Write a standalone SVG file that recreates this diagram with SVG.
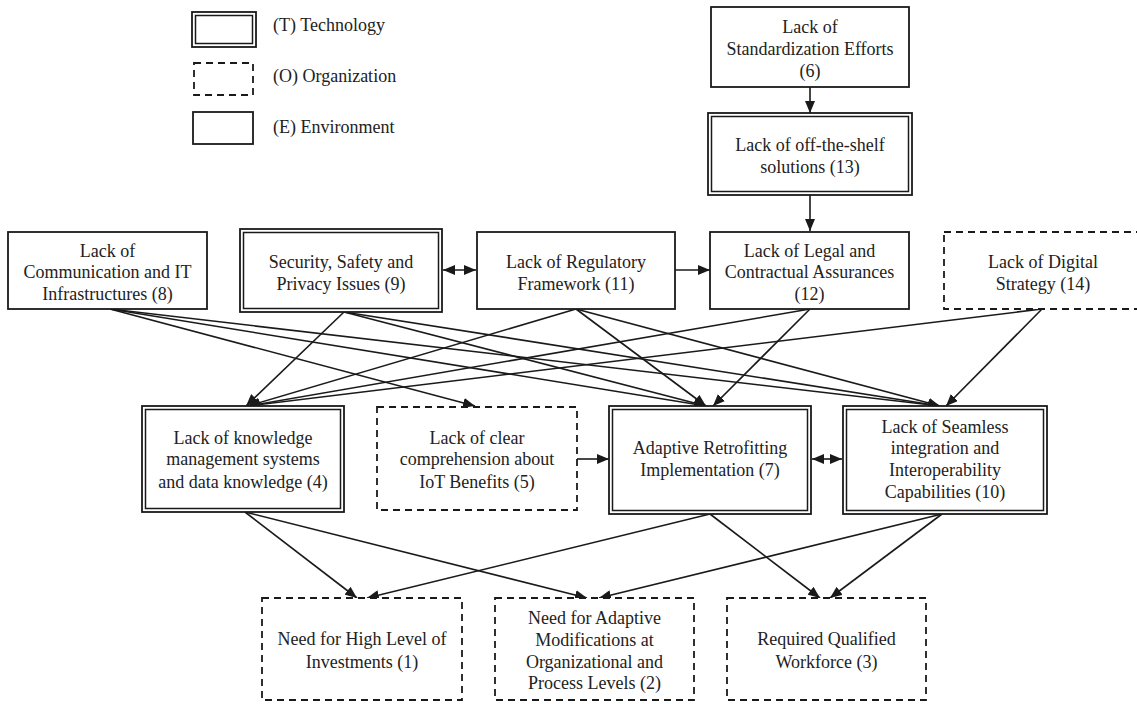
<svg xmlns="http://www.w3.org/2000/svg" width="1137" height="704" viewBox="0 0 1137 704">
<defs>
<style>
.box{fill:#fff;stroke:#1a1a1a;stroke-width:1.8}
.dash{fill:#fff;stroke:#1a1a1a;stroke-width:1.8;stroke-dasharray:7 5}
.inner{fill:none;stroke:#1a1a1a;stroke-width:1.5}
text{font-family:"Liberation Serif","Times New Roman",serif;font-size:18px;fill:#222;text-anchor:middle}
.leg{text-anchor:start}
.c line{stroke:#1a1a1a;stroke-width:1.6;marker-end:url(#ah)}
.c line.both{marker-start:url(#ahs)}
</style>
<marker id="ah" markerUnits="userSpaceOnUse" markerWidth="13" markerHeight="10" refX="12" refY="5" orient="auto">
<path d="M0,0 L12,5 L0,10 Z" fill="#1a1a1a"/>
</marker>
<marker id="ahs" markerUnits="userSpaceOnUse" markerWidth="13" markerHeight="10" refX="12" refY="5" orient="auto-start-reverse">
<path d="M0,0 L12,5 L0,10 Z" fill="#1a1a1a"/>
</marker>
</defs>
<rect width="1137" height="704" fill="#fff"/>

<g id="legend">
<rect class="box" x="192" y="12" width="64" height="35"/>
<rect class="inner" x="195.5" y="15.5" width="57" height="28"/>
<text class="leg" x="273" y="31">(T) Technology</text>
<rect class="dash" x="194" y="63" width="59" height="32"/>
<text class="leg" x="273" y="82">(O) Organization</text>
<rect class="box" x="193" y="112" width="60" height="32"/>
<text class="leg" x="273" y="133">(E) Environment</text>
</g>

<g class="c" id="connectors">
<line x1="810" y1="87" x2="810" y2="113"/>
<line x1="810" y1="195" x2="810" y2="231"/>
<line class="both" x1="443" y1="270" x2="476" y2="270"/>
<line x1="675" y1="270" x2="710" y2="270"/>
<line x1="110" y1="309" x2="475" y2="406"/>
<line x1="110" y1="309" x2="706" y2="406"/>
<line x1="110" y1="309" x2="940" y2="406"/>
<line x1="344" y1="312" x2="246" y2="406"/>
<line x1="344" y1="312" x2="706" y2="406"/>
<line x1="344" y1="312" x2="940" y2="406"/>
<line x1="576" y1="309" x2="248" y2="406"/>
<line x1="576" y1="309" x2="706" y2="406"/>
<line x1="576" y1="309" x2="940" y2="406"/>
<line x1="810" y1="309" x2="248" y2="406"/>
<line x1="810" y1="309" x2="713" y2="406"/>
<line x1="1042" y1="309" x2="248" y2="406"/>
<line x1="1042" y1="309" x2="946" y2="406"/>
<line x1="577" y1="459" x2="609" y2="459"/>
<line class="both" x1="812" y1="459" x2="842" y2="459"/>
<line x1="245" y1="512" x2="357" y2="598"/>
<line x1="245" y1="512" x2="587" y2="598"/>
<line x1="710" y1="514" x2="367" y2="598"/>
<line x1="710" y1="514" x2="820" y2="598"/>
<line x1="942" y1="514" x2="599" y2="598"/>
<line x1="942" y1="514" x2="830" y2="598"/>
</g>

<g id="n6">
<rect class="box" x="711" y="7" width="198" height="80"/>
<text x="810" y="33">Lack of</text>
<text x="810" y="55">Standardization Efforts</text>
<text x="810" y="77">(6)</text>
</g>
<g id="n13">
<rect class="box" x="708" y="113" width="204" height="82"/>
<rect class="inner" x="711.5" y="116.5" width="197" height="75"/>
<text x="810" y="151">Lack of off-the-shelf</text>
<text x="810" y="173">solutions (13)</text>
</g>

<g id="n8">
<rect class="box" x="8" y="232" width="199" height="77"/>
<text x="107.5" y="257">Lack of</text>
<text x="107.5" y="278">Communication and IT</text>
<text x="107.5" y="300">Infrastructures (8)</text>
</g>
<g id="n9">
<rect class="box" x="240" y="229" width="202" height="83"/>
<rect class="inner" x="243.5" y="232.5" width="195" height="76"/>
<text x="341" y="268">Security, Safety and</text>
<text x="341" y="290">Privacy Issues (9)</text>
</g>
<g id="n11">
<rect class="box" x="477" y="232" width="198" height="77"/>
<text x="576" y="268">Lack of Regulatory</text>
<text x="576" y="290">Framework (11)</text>
</g>
<g id="n12">
<rect class="box" x="710" y="232" width="199" height="77"/>
<text x="809.5" y="257">Lack of Legal and</text>
<text x="809.5" y="278">Contractual Assurances</text>
<text x="809.5" y="300">(12)</text>
</g>
<g id="n14">
<rect class="dash" x="944" y="232" width="198" height="77"/>
<text x="1043" y="268">Lack of Digital</text>
<text x="1043" y="290">Strategy (14)</text>
</g>

<g id="n4">
<rect class="box" x="142" y="406" width="202" height="106"/>
<rect class="inner" x="145.5" y="409.5" width="195" height="99"/>
<text x="243" y="444">Lack of knowledge</text>
<text x="243" y="465">management systems</text>
<text x="243" y="488">and data knowledge (4)</text>
</g>
<g id="n5">
<rect class="dash" x="377" y="407" width="200" height="103"/>
<text x="477" y="444">Lack of clear</text>
<text x="477" y="465">comprehension about</text>
<text x="477" y="488">IoT Benefits (5)</text>
</g>
<g id="n7">
<rect class="box" x="609" y="406" width="202" height="108"/>
<rect class="inner" x="612.5" y="409.5" width="195" height="101"/>
<text x="710" y="454">Adaptive Retrofitting</text>
<text x="710" y="476">Implementation (7)</text>
</g>
<g id="n10">
<rect class="box" x="843" y="406" width="204" height="108"/>
<rect class="inner" x="846.5" y="409.5" width="197" height="101"/>
<text x="945" y="433">Lack of Seamless</text>
<text x="945" y="454">integration and</text>
<text x="945" y="476">Interoperability</text>
<text x="945" y="498">Capabilities (10)</text>
</g>

<g id="n1">
<rect class="dash" x="262" y="598" width="200" height="102"/>
<text x="362" y="645">Need for High Level of</text>
<text x="362" y="668">Investments (1)</text>
</g>
<g id="n2">
<rect class="dash" x="495" y="598" width="199" height="102"/>
<text x="594.5" y="624">Need for Adaptive</text>
<text x="594.5" y="646">Modifications at</text>
<text x="594.5" y="668">Organizational and</text>
<text x="594.5" y="689">Process Levels (2)</text>
</g>
<g id="n3">
<rect class="dash" x="727" y="598" width="199" height="102"/>
<text x="826.5" y="645">Required Qualified</text>
<text x="826.5" y="668">Workforce (3)</text>
</g>
</svg>
